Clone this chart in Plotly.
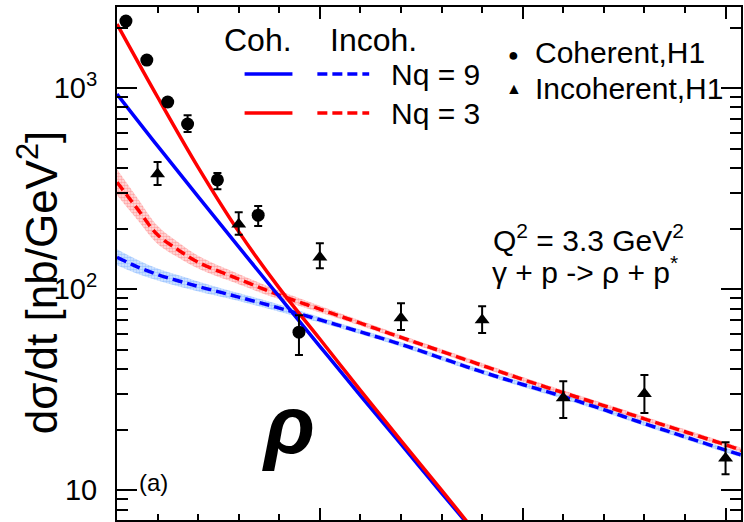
import plotly.graph_objects as go

# ---------------- data ----------------
# H1 coherent rho data
coh_t = [0.022, 0.0735, 0.125, 0.174, 0.2475, 0.348, 0.4485]
coh_y = [2153, 1377, 852, 662, 349, 233, 61]
coh_up = [80, 60, 40, 71, 29, 26, 13]
coh_dn = [80, 60, 40, 58, 35, 27, 14]

# H1 incoherent rho data
inc_t = [0.1, 0.3, 0.5, 0.7, 0.9, 1.1, 1.3, 1.5]
inc_y = [373, 210, 144, 71.8, 70.2, 28.7, 30.1, 14.4]
inc_up = [55, 31, 25, 13.2, 11.8, 6.1, 7.2, 2.9]
inc_dn = [44, 24, 17, 9.3, 9.8, 5.9, 5.9, 2.4]

# model curves: coherent (solid)
model_coh_t = [0.0, 0.1, 0.2, 0.3, 0.4, 0.5, 0.6, 0.7, 0.8, 0.9]
coh_nq9 = [933, 515, 288, 162, 91.6, 51.9, 29.5, 16.9, 9.66, 5.56]
coh_nq3 = [2080, 902, 403, 193, 101, 56.4, 31.3, 17.6, 10.0, 5.6]

# model curves: incoherent (dashed) with uncertainty bands (half-width in dex)
model_inc_t = [0.0, 0.05, 0.1, 0.15, 0.2, 0.3, 0.4, 0.5, 0.6, 0.7, 0.8, 0.9,
               1.0, 1.1, 1.2, 1.3, 1.4, 1.5, 1.55]
inc_nq9 = [144, 129, 118, 110, 103, 91.2, 80.4, 70.3, 61.2, 53.1, 45.3, 38.7,
           33.5, 29.2, 25.1, 21.4, 18.4, 15.8, 14.7]
inc_nq3 = [340, 251, 186, 157, 136, 112, 93.3, 79.4, 67.6, 57.5, 49.0, 41.7,
           35.5, 30.5, 26.3, 22.6, 19.5, 16.8, 15.5]
band_nq9_dex = [0.04, 0.035, 0.03, 0.028, 0.025, 0.02, 0.018, 0.014, 0.012, 0.012,
                0.012, 0.012, 0.012, 0.012, 0.012, 0.012, 0.012, 0.012, 0.012]
band_nq3_dex = [0.065, 0.055, 0.045, 0.038, 0.032, 0.026, 0.021, 0.017, 0.013, 0.012,
                0.012, 0.012, 0.012, 0.012, 0.012, 0.012, 0.012, 0.012, 0.012]

y_tickvals = [10, 100, 1000]
y_ticktext = ["10", "10<sup>2</sup>", "10<sup>3</sup>"]
y_minor = [6, 7, 8, 9, 20, 30, 40, 50, 60, 70, 80, 90,
           200, 300, 400, 500, 600, 700, 800, 900, 2000]

FONT = "Liberation Sans, Arial, Helvetica, sans-serif"
BLUE = "#0000ff"
RED = "#ff0000"

fig = go.Figure()


def add_band(t, v, dex, fg, bg):
    lo = [a / (10 ** d) for a, d in zip(v, dex)]
    hi = [a * (10 ** d) for a, d in zip(v, dex)]
    fig.add_trace(go.Scatter(x=t, y=lo, mode="lines", line=dict(width=0),
                             line_shape="spline", showlegend=False, hoverinfo="skip"))
    fig.add_trace(go.Scatter(x=t, y=hi, mode="lines", line=dict(width=0),
                             line_shape="spline", fill="tonexty", fillcolor=bg,
                             fillpattern=dict(shape=".", fgcolor=fg, bgcolor=bg,
                                              size=3, solidity=0.6),
                             showlegend=False, hoverinfo="skip"))


add_band(model_inc_t, inc_nq9, band_nq9_dex, "rgba(60,140,255,0.7)", "rgba(170,205,255,0.45)")
add_band(model_inc_t, inc_nq3, band_nq3_dex, "rgba(255,60,60,0.7)", "rgba(255,190,190,0.45)")

fig.add_trace(go.Scatter(x=model_inc_t, y=inc_nq9, mode="lines", line_shape="spline",
                         line=dict(color=BLUE, width=3.5, dash="10px,5px"), showlegend=False))
fig.add_trace(go.Scatter(x=model_inc_t, y=inc_nq3, mode="lines", line_shape="spline",
                         line=dict(color=RED, width=3.5, dash="10px,5px"), showlegend=False))
fig.add_trace(go.Scatter(x=model_coh_t, y=coh_nq9, mode="lines", line_shape="spline",
                         line=dict(color=BLUE, width=3.5), showlegend=False))
fig.add_trace(go.Scatter(x=model_coh_t, y=coh_nq3, mode="lines", line_shape="spline",
                         line=dict(color=RED, width=3.5), showlegend=False))

fig.add_trace(go.Scatter(x=coh_t, y=coh_y, mode="markers",
                         marker=dict(symbol="circle", size=13, color="black"),
                         error_y=dict(type="data", symmetric=False, array=coh_up,
                                      arrayminus=coh_dn, color="black", thickness=2, width=4),
                         showlegend=False))
fig.add_trace(go.Scatter(x=inc_t, y=inc_y, mode="markers",
                         marker=dict(symbol="triangle-up", size=13, color="black"),
                         error_y=dict(type="data", symmetric=False, array=inc_up,
                                      arrayminus=inc_dn, color="black", thickness=2, width=4),
                         showlegend=False))

# plot area in pixels: x 117..743, y 7..520
L, R, T, B = 117, 743, 7, 520


def px(xp):
    return (xp - L) / (R - L)


def py(yp):
    return (B - yp) / (B - T)


ann = []


def text(s, x, y, size=30, xanchor="center", yanchor="middle", **kw):
    ann.append(dict(text=s, x=px(x), y=py(y), xref="paper", yref="paper",
                    xanchor=xanchor, yanchor=yanchor, showarrow=False,
                    font=dict(family=FONT, size=size, color="black"), **kw))


text("Coh.", 258, 40, size=32)
text("Incoh.", 374, 40, size=32)
text("Nq = 9", 390, 74, xanchor="left")
text("Nq = 3", 390, 113, xanchor="left")
text("●", 515, 55, size=18)
text("Coherent,H1", 534, 52, xanchor="left")
text("▲", 515, 88, size=16)
text("Incoherent,H1", 534, 88, xanchor="left")
text("Q<sup>2</sup> = 3.3 GeV<sup>2</sup>", 590, 238)
text("γ + p -> ρ + p<sup>*</sup>", 587, 270)
text("<b><i>ρ</i></b>", 289, 425, size=84)
text("(a)", 137, 482, size=24, xanchor="left")
text("dσ/dt [nb/GeV<sup>2</sup>]", 37, 282, size=44, textangle=-90)

shapes = []


def seg(x0, x1, y, color, dash="solid"):
    shapes.append(dict(type="line", xref="paper", yref="paper",
                       x0=px(x0), x1=px(x1), y0=py(y), y1=py(y),
                       line=dict(color=color, width=3.5, dash=dash)))


seg(245, 293, 74, BLUE)
seg(318, 370, 74, BLUE, "10px,5px")
seg(245, 293, 113, RED)
seg(318, 370, 113, RED, "10px,5px")

fig.update_layout(
    width=744, height=522,
    margin=dict(l=L, r=744 - R, t=T, b=522 - B),
    paper_bgcolor="white", plot_bgcolor="white",
    font=dict(family=FONT, size=28, color="black"),
    annotations=ann, shapes=shapes, showlegend=False,
    xaxis=dict(range=[0, (R - L) / 407.0], showline=True, linecolor="black", linewidth=2,
               mirror="allticks", ticks="inside", ticklen=12, tickwidth=2, tickcolor="black",
               tick0=0, dtick=0.5, showticklabels=False, showgrid=False, zeroline=False,
               minor=dict(ticks="inside", ticklen=6, tickwidth=2, tickcolor="black",
                          dtick=0.1, tick0=0, showgrid=False)),
    yaxis=dict(type="log", range=[0.851, 3.403], showline=True, linecolor="black", linewidth=2,
               mirror="allticks", ticks="inside", ticklen=20, tickwidth=2, tickcolor="black",
               tickmode="array", tickvals=y_tickvals, ticktext=y_ticktext,
               ticklabelstandoff=12,
               tickfont=dict(family=FONT, size=29), showgrid=False, zeroline=False,
               minor=dict(ticks="inside", ticklen=11, tickwidth=2, tickcolor="black",
                          tickmode="array", tickvals=y_minor, showgrid=False)),
)

fig.write_html("out.html")
